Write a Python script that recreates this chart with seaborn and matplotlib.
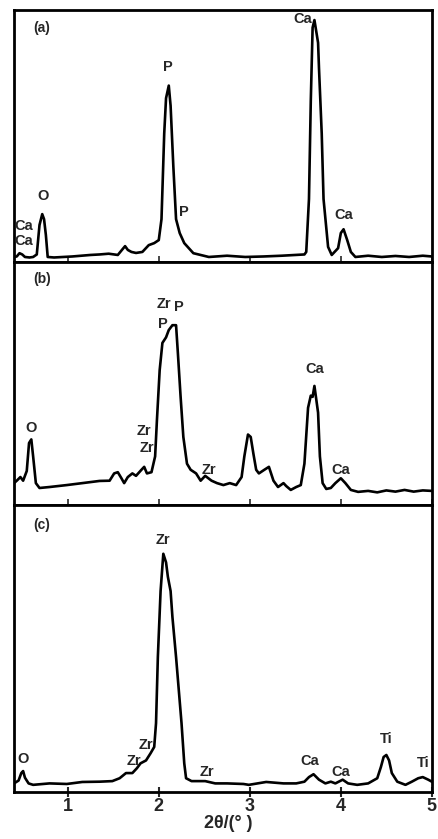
import matplotlib
matplotlib.use("Agg")
import matplotlib.pyplot as plt
import pandas as pd
import seaborn as sns

# ── Spectrum data ──────────────────────────────────────────────────────────────

a_x = [0.41, 0.44, 0.47, 0.50, 0.53, 0.58, 0.62, 0.66, 0.69, 0.72, 0.74, 0.76, 0.78,
       0.85, 0.95, 1.05, 1.15, 1.25, 1.35, 1.45, 1.55, 1.60, 1.63, 1.66, 1.70, 1.75,
       1.82, 1.89, 1.95, 2.00, 2.03, 2.06, 2.08, 2.11, 2.13, 2.16, 2.19, 2.23, 2.28,
       2.38, 2.55, 2.75, 2.95, 3.15, 3.35, 3.50, 3.60, 3.62, 3.65, 3.67, 3.69, 3.71,
       3.75, 3.76, 3.79, 3.81, 3.86, 3.90, 3.97, 4.00, 4.03, 4.07, 4.11, 4.16, 4.30,
       4.45, 4.60, 4.75, 4.90, 5.00]
a_y = [0.02, 0.022, 0.035, 0.03, 0.02, 0.018, 0.02, 0.03, 0.147, 0.19, 0.17, 0.107,
       0.02, 0.018, 0.02, 0.022, 0.025, 0.028, 0.03, 0.033, 0.028, 0.05, 0.063, 0.048,
       0.04, 0.036, 0.04, 0.067, 0.075, 0.087, 0.17, 0.51, 0.65, 0.70, 0.62, 0.38, 0.17,
       0.115, 0.075, 0.035, 0.02, 0.025, 0.02, 0.022, 0.025, 0.028, 0.03, 0.04, 0.25,
       0.64, 0.93, 0.96, 0.87, 0.77, 0.51, 0.25, 0.06, 0.028, 0.055, 0.115, 0.13,
       0.087, 0.04, 0.02, 0.025, 0.02, 0.024, 0.02, 0.025, 0.022]

b_x = [0.41, 0.44, 0.48, 0.51, 0.55, 0.575, 0.60, 0.62, 0.65, 0.69, 0.80, 0.99, 1.16,
       1.35, 1.46, 1.51, 1.55, 1.59, 1.62, 1.66, 1.71, 1.75, 1.81, 1.84, 1.87, 1.92,
       1.96, 1.98, 2.01, 2.04, 2.08, 2.11, 2.15, 2.19, 2.21, 2.24, 2.27, 2.31, 2.35,
       2.41, 2.46, 2.51, 2.58, 2.64, 2.71, 2.78, 2.85, 2.91, 2.94, 2.98, 3.01, 3.04,
       3.07, 3.10, 3.16, 3.21, 3.26, 3.31, 3.37, 3.40, 3.45, 3.51, 3.56, 3.60, 3.64,
       3.67, 3.69, 3.71, 3.75, 3.77, 3.80, 3.84, 3.89, 3.94, 4.00, 4.05, 4.11, 4.19,
       4.30, 4.40, 4.50, 4.60, 4.70, 4.80, 4.90, 5.00]
b_y = [0.09, 0.10, 0.115, 0.10, 0.14, 0.255, 0.27, 0.20, 0.09, 0.07, 0.074, 0.082,
       0.09, 0.099, 0.10, 0.13, 0.135, 0.11, 0.09, 0.115, 0.13, 0.12, 0.145, 0.157,
       0.13, 0.135, 0.20, 0.35, 0.555, 0.667, 0.69, 0.72, 0.74, 0.74, 0.625, 0.445,
       0.28, 0.17, 0.145, 0.13, 0.10, 0.12, 0.10, 0.09, 0.082, 0.09, 0.082, 0.115,
       0.20, 0.29, 0.28, 0.21, 0.145, 0.13, 0.145, 0.157, 0.10, 0.074, 0.09, 0.078,
       0.062, 0.074, 0.082, 0.17, 0.40, 0.45, 0.445, 0.49, 0.38, 0.20, 0.09, 0.066,
       0.07, 0.09, 0.11, 0.09, 0.062, 0.054, 0.058, 0.052, 0.06, 0.055, 0.062, 0.055,
       0.06, 0.058]

c_x = [0.41, 0.46, 0.49, 0.51, 0.53, 0.57, 0.62, 0.80, 0.99, 1.16, 1.35, 1.49, 1.57,
       1.64, 1.71, 1.76, 1.80, 1.86, 1.91, 1.95, 1.97, 1.99, 2.02, 2.05, 2.08, 2.10,
       2.13, 2.15, 2.19, 2.22, 2.25, 2.28, 2.30, 2.36, 2.51, 2.62, 2.75, 2.93, 2.99,
       3.18, 3.37, 3.51, 3.60, 3.65, 3.70, 3.76, 3.83, 3.89, 3.94, 4.02, 4.08, 4.18,
       4.30, 4.40, 4.44, 4.47, 4.50, 4.53, 4.56, 4.62, 4.71, 4.78, 4.85, 4.90, 4.96,
       5.00]
c_y = [0.03, 0.04, 0.066, 0.073, 0.05, 0.03, 0.025, 0.03, 0.028, 0.035, 0.036,
       0.038, 0.048, 0.066, 0.066, 0.083, 0.10, 0.11, 0.135, 0.157, 0.24, 0.47, 0.70,
       0.83, 0.80, 0.75, 0.70, 0.61, 0.47, 0.355, 0.24, 0.10, 0.048, 0.038, 0.038,
       0.03, 0.03, 0.028, 0.025, 0.035, 0.03, 0.03, 0.036, 0.052, 0.062, 0.043, 0.03,
       0.036, 0.03, 0.043, 0.03, 0.025, 0.03, 0.048, 0.087, 0.122, 0.129, 0.11, 0.066,
       0.036, 0.025, 0.036, 0.048, 0.052, 0.043, 0.036]

# peak annotations: (text, x, y) in data units
a_labels = [("Ca", 0.52, 0.115), ("Ca", 0.52, 0.055), ("O", 0.73, 0.235),
            ("P", 2.10, 0.745), ("P", 2.28, 0.17), ("Ca", 3.58, 0.935),
            ("Ca", 4.03, 0.16)]
b_labels = [("O", 0.60, 0.29), ("Zr", 1.84, 0.275), ("Zr", 1.87, 0.205),
            ("Zr", 2.06, 0.80), ("P", 2.04, 0.715), ("P", 2.22, 0.785),
            ("Zr", 2.55, 0.115), ("Ca", 3.71, 0.53), ("Ca", 4.00, 0.115)]
c_labels = [("Zr", 2.05, 0.855), ("Zr", 1.86, 0.14), ("Zr", 1.73, 0.085),
            ("O", 0.51, 0.09), ("Zr", 2.53, 0.045), ("Ca", 3.66, 0.085),
            ("Ca", 4.00, 0.045), ("Ti", 4.50, 0.16), ("Ti", 4.91, 0.075)]

panel_tags = ["(a)", "(b)", "(c)"]
x_ticks = [1, 2, 3, 4, 5]

# ── Figure ─────────────────────────────────────────────────────────────────────

sns.set_style("ticks")
plt.rcParams["font.family"] = ["Liberation Sans", "DejaVu Sans"]

fig = plt.figure(figsize=(4.38, 8.39), dpi=100)
rects = [
    [0.032, 0.6877, 0.954, 0.3004],
    [0.032, 0.3981, 0.954, 0.2896],
    [0.032, 0.0560, 0.954, 0.3421],
]
spectra = [(a_x, a_y, a_labels), (b_x, b_y, b_labels), (c_x, c_y, c_labels)]

for i, (rect, (xs, ys, labels)) in enumerate(zip(rects, spectra)):
    ax = fig.add_axes(rect)
    df = pd.DataFrame({"x": xs, "y": ys})
    sns.lineplot(data=df, x="x", y="y", ax=ax, color="black", lw=1.9,
                 sort=False, estimator=None)
    ax.set_xlim(0.41, 5.0)
    ax.set_ylim(0, 1)
    ax.set_yticks([])
    ax.set_xlabel("")
    ax.set_ylabel("")
    for s in ax.spines.values():
        s.set_linewidth(2.0)
        s.set_color("black")
    ax.set_xticks(x_ticks)
    if i < 2:
        ax.tick_params(axis="x", direction="in", length=4, width=1.2,
                       labelbottom=False)
    else:
        ax.tick_params(axis="x", direction="inout", length=7, width=1.5,
                       labelsize=13, pad=1)
        for t in ax.get_xticklabels():
            t.set_fontweight("bold")
    ax.text(0.045, 0.93, panel_tags[i], transform=ax.transAxes, fontsize=10,
            fontweight="bold", va="center", ha="left")
    for txt, lx, ly in labels:
        ax.text(lx, ly, txt, fontsize=10.5, fontweight="bold", ha="center",
                va="bottom")

fig.text(0.52, 0.019, "2θ/(° )", fontsize=13, fontweight="bold",
         ha="center", va="center")

fig.savefig("out.png", dpi=100)
